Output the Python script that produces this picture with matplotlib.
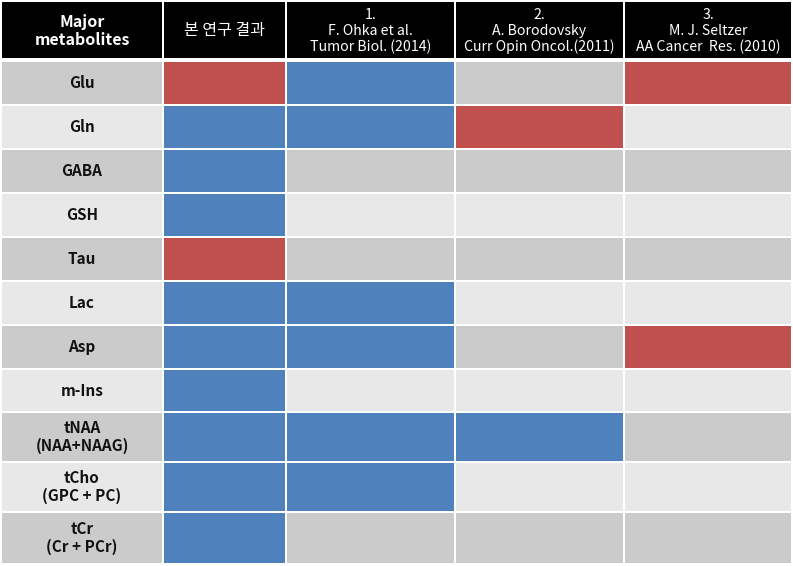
import matplotlib
matplotlib.use("Agg")
import matplotlib.pyplot as plt
from matplotlib.patches import Rectangle

plt.rcParams['font.family'] = ['Noto Sans CJK KR', 'DejaVu Sans']

header_first = "Major\nmetabolites"
column_headers = [
    "본 연구 결과",
    "1.\nF. Ohka et al.\nTumor Biol. (2014)",
    "2.\nA. Borodovsky\nCurr Opin Oncol.(2011)",
    "3.\nM. J. Seltzer\nAA Cancer  Res. (2010)",
]
metabolites = ["Glu", "Gln", "GABA", "GSH", "Tau", "Lac", "Asp", "m-Ins",
               "tNAA\n(NAA+NAAG)", "tCho\n(GPC + PC)", "tCr\n(Cr + PCr)"]
# 0 = no report, 1 = blue, 2 = red
status = [
    [2, 1, 0, 2],
    [1, 1, 2, 0],
    [1, 0, 0, 0],
    [1, 0, 0, 0],
    [2, 0, 0, 0],
    [1, 1, 0, 0],
    [1, 1, 0, 2],
    [1, 0, 0, 0],
    [1, 1, 1, 0],
    [1, 1, 0, 0],
    [1, 0, 0, 0],
]

W, H = 793, 566
fig = plt.figure(figsize=(W / 100, H / 100), dpi=100)
ax = fig.add_axes([0, 0, 1, 1])
ax.set_xlim(0, W)
ax.set_ylim(H, 0)
ax.axis('off')

col_edges = [1, 163, 286, 455, 624, 792]
header_top, header_bot = 1, 59
row_edges = [61, 105, 149, 193, 237, 281, 325, 369, 412, 462, 512, 564]

BLUE = '#4f81bd'
RED = '#c0504d'
DARK = '#cbcbcb'
LIGHT = '#e8e8e8'
gap = 1.0

def cell(x0, x1, y0, y1, color):
    ax.add_patch(Rectangle((x0 + gap, y0 + gap), x1 - x0 - 2 * gap, y1 - y0 - 2 * gap,
                           facecolor=color, edgecolor='none'))

# header
hdr = [header_first] + column_headers
for j in range(5):
    cell(col_edges[j], col_edges[j + 1], header_top, header_bot, 'black')
    cx = (col_edges[j] + col_edges[j + 1]) / 2
    cy = (header_top + header_bot) / 2
    if j == 0:
        ax.text(cx, cy + 1, hdr[j], color='white', ha='center', va='center',
                fontsize=11.5, fontweight='bold', linespacing=1.1)
    elif j == 1:
        ax.text(cx, cy, hdr[j], color='white', ha='center', va='center',
                fontsize=11.5, linespacing=1.2)
    else:
        ax.text(cx, cy + 1, hdr[j], color='white', ha='center', va='center',
                fontsize=10.2, fontweight='medium', linespacing=1.15)

# rows
for i, name in enumerate(metabolites):
    y0, y1 = row_edges[i], row_edges[i + 1]
    base = DARK if i % 2 == 0 else LIGHT
    cell(col_edges[0], col_edges[1], y0, y1, base)
    ax.text((col_edges[0] + col_edges[1]) / 2, (y0 + y1) / 2, name, color='#111111',
            ha='center', va='center', fontsize=11, fontweight='bold', linespacing=1.1)
    for j, s in enumerate(status[i]):
        color = {0: base, 1: BLUE, 2: RED}[s]
        cell(col_edges[j + 1], col_edges[j + 2], y0, y1, color)

fig.savefig('out.png', dpi=100, facecolor='white')
